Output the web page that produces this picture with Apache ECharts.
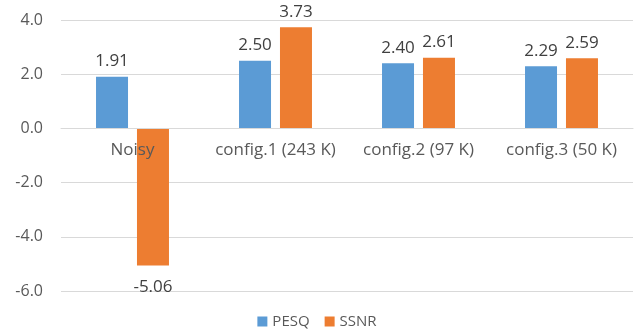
<!DOCTYPE html>
<html>
<head>
<meta charset="utf-8">
<script src="https://cdn.jsdelivr.net/npm/echarts@6/dist/echarts.min.js"></script>
<style>
  html, body { margin: 0; padding: 0; background: #fff; }
  #chart { width: 634px; height: 335px; }
</style>
</head>
<body>
<div id="chart"></div>
<script>
// Scores per configuration
const categories = ['Noisy', 'config.1 (243 K)', 'config.2 (97 K)', 'config.3 (50 K)'];
const pesq = [1.91, 2.50, 2.40, 2.29];
const ssnr = [-5.06, 3.73, 2.61, 2.59];
const seriesNames = ['PESQ', 'SSNR'];
const colors = ['#5B9BD5', '#ED7D31'];

const FONT = 'Open Sans';

// Labels sit above positive bars and below negative ones
function withLabels(values) {
  return values.map(v => ({
    value: v,
    label: { position: v < 0 ? 'bottom' : 'top', distance: v < 0 ? 13 : 7 }
  }));
}

const GRID_TOP = 20, GRID_BOTTOM = 44, HEIGHT = 335;
const Y_MIN = -6, Y_MAX = 4;
// Shift the category axis up from the grid bottom onto the zero line
const plotH = HEIGHT - GRID_TOP - GRID_BOTTOM;
const zeroShift = plotH * (0 - Y_MIN) / (Y_MAX - Y_MIN);

const chart = echarts.init(document.getElementById('chart'), null, { renderer: 'canvas' });
chart.setOption({
  animation: false,
  color: colors,
  textStyle: { fontFamily: FONT },
  grid: {
    left: 61, right: 1, top: GRID_TOP, bottom: GRID_BOTTOM,
    containLabel: false, outerBoundsMode: 'none'
  },
  legend: {
    bottom: 1,
    left: 'center',
    itemWidth: 10,
    itemHeight: 10,
    itemGap: 15,
    itemTextGap: 6,
    icon: 'rect',
    textStyle: { fontFamily: FONT, fontSize: 15, color: '#595959' },
    data: seriesNames
  },
  xAxis: {
    type: 'category',
    data: categories,
    position: 'bottom',
    offset: -zeroShift,
    z: 5,
    axisLine: { onZero: false, lineStyle: { color: '#d9d9d9', width: 1 } },
    axisTick: { show: false },
    axisLabel: { fontFamily: FONT, fontSize: 17, color: '#595959', margin: 13, interval: 0 }
  },
  yAxis: {
    type: 'value',
    min: Y_MIN,
    max: Y_MAX,
    interval: 2,
    axisLine: { show: false },
    axisTick: { show: false },
    splitLine: { lineStyle: { color: '#d9d9d9', width: 1 } },
    axisLabel: {
      margin: 18, align: 'right',
      formatter: v => '{n|' + v.toFixed(1) + '}',
      rich: {
        n: { width: 40, align: 'right', fontFamily: FONT, fontSize: 16, color: '#595959' }
      }
    }
  },
  series: [
    {
      name: seriesNames[0], type: 'bar', data: withLabels(pesq),
      barWidth: 32, barGap: '28%',
      label: { show: true, fontFamily: FONT, fontSize: 17, color: '#404040', formatter: p => p.value.toFixed(2) }
    },
    {
      name: seriesNames[1], type: 'bar', data: withLabels(ssnr),
      barWidth: 32, barGap: '28%',
      label: { show: true, fontFamily: FONT, fontSize: 17, color: '#404040', formatter: p => p.value.toFixed(2) }
    }
  ]
});
</script>
</body>
</html>
